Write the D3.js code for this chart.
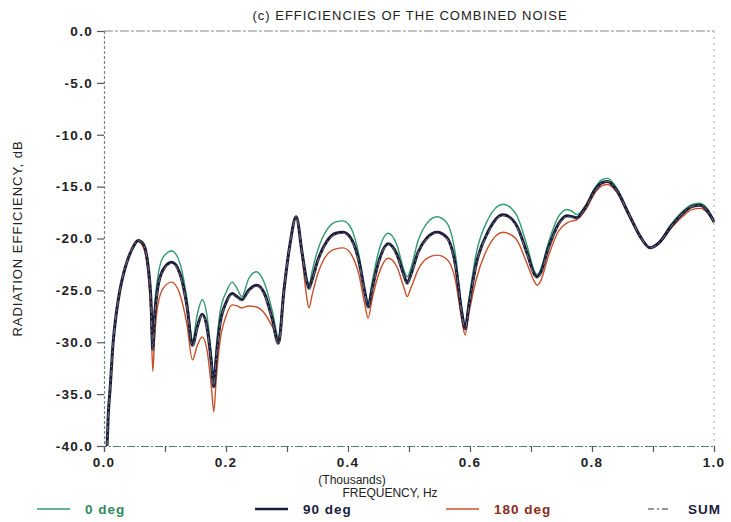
<!DOCTYPE html>
<html>
<head>
<meta charset="utf-8">
<script src="https://cdn.jsdelivr.net/npm/d3@7"></script>
<style>
  html, body { margin: 0; padding: 0; background: #ffffff; }
  svg { display: block; }
  text { font-family: "Liberation Sans", "DejaVu Sans", sans-serif; }
</style>
</head>
<body>
<svg id="chart" width="731" height="522"></svg>
<script>
// ---- data ----
const title = "(c) EFFICIENCIES OF THE COMBINED NOISE";
const yTitle = "RADIATION EFFICIENCY, dB";
const xTitle1 = "(Thousands)";
const xTitle2 = "FREQUENCY, Hz";
const xTickValues = [0.0, 0.2, 0.4, 0.6, 0.8, 1.0];
const xTickLabels = ["0.0", "0.2", "0.4", "0.6", "0.8", "1.0"];
const xMinorTicks = [0.0, 0.1, 0.2, 0.3, 0.4, 0.5, 0.6, 0.7, 0.8, 0.9, 1.0];
const yTickValues = [0, -5, -10, -15, -20, -25, -30, -35, -40];
const yTickLabels = ["0.0", "-5.0", "-10.0", "-15.0", "-20.0", "-25.0", "-30.0", "-35.0", "-40.0"];
const seriesNames = ["0 deg", "90 deg", "180 deg", "SUM"];

const freq = [0.005, 0.007, 0.01, 0.015, 0.02, 0.026, 0.032, 0.038, 0.047, 0.056,
  0.064, 0.072, 0.077, 0.080, 0.083, 0.088, 0.097, 0.111, 0.124, 0.136,
  0.145, 0.153, 0.161, 0.169, 0.176, 0.180, 0.184, 0.190, 0.200, 0.210,
  0.218, 0.226, 0.237, 0.250, 0.263, 0.276, 0.286, 0.295, 0.305, 0.315,
  0.325, 0.332, 0.336, 0.341, 0.350, 0.365, 0.380, 0.392, 0.405, 0.418,
  0.428, 0.433, 0.439, 0.450, 0.466, 0.480, 0.492, 0.497, 0.503, 0.515,
  0.530, 0.546, 0.562, 0.576, 0.587, 0.592, 0.598, 0.610, 0.630, 0.654,
  0.675, 0.694, 0.706, 0.710, 0.715, 0.728, 0.745, 0.759, 0.768, 0.775,
  0.790, 0.805, 0.817, 0.826, 0.840, 0.860, 0.880, 0.895, 0.910, 0.930,
  0.950, 0.965, 0.977, 0.990, 1.0];

const deg0 = [-40, -37, -34.5, -30, -27.3, -25, -23.4, -22.2, -20.9, -20.2,
  -20.5, -22.5, -25.5, -29.8, -26.5, -23.8, -21.8, -21.2, -22.3, -25.8,
  -29.8, -27.3, -25.9, -27.5, -31.2, -33.4, -30.5, -27.2, -25.2, -24.2,
  -24.8, -25.6, -23.9, -23.2, -24.3, -27.0, -29.5, -24.8, -20.5, -17.9,
  -21.3, -23.8, -24.5, -23.2, -21.2, -19.2, -18.4, -18.3, -19.0, -21.6,
  -25.0, -26.3, -24.4, -21.3, -19.5, -20.6, -23.1, -23.7, -22.9, -20.2,
  -18.5, -17.9, -18.5, -21.5, -27.0, -28.5, -26.0, -21.5, -18.1, -16.7,
  -17.6, -20.8, -23.2, -23.5, -23.1, -20.5, -17.9, -17.2, -17.4, -17.7,
  -16.8, -15.1, -14.3, -14.2, -15.1, -17.5, -19.9, -20.9, -20.3, -18.6,
  -17.3, -16.7, -16.6, -17.2, -18.3];

const deg90 = [-40, -37, -34.5, -30, -27.3, -25, -23.4, -22.2, -20.9, -20.2,
  -20.5, -22.5, -26, -30.7, -27.5, -24.8, -23, -22.3, -23.3, -26.5,
  -30.3, -28.5, -27.3, -28.6, -32, -34.3, -31.5, -28.3, -26.2, -25.3,
  -25.6, -25.9, -25.0, -24.5, -25.3, -27.8, -30.1, -25, -20.5, -17.9,
  -21.5, -24.0, -24.8, -24.0, -22.2, -20.3, -19.5, -19.4, -20.0, -22.2,
  -25.3, -26.6, -25.0, -22.3, -20.5, -21.5, -23.6, -24.3, -23.5, -21.3,
  -19.9, -19.4, -19.9, -22.5, -27.3, -28.7, -26.5, -22.5, -19.3, -17.7,
  -18.6, -21.5, -23.5, -23.7, -23.4, -21.0, -18.6, -17.8, -17.9, -18.0,
  -16.9, -15.3, -14.6, -14.5, -15.3, -17.6, -19.9, -20.9, -20.4, -18.8,
  -17.5, -16.9, -16.8, -17.4, -18.4];

const deg180 = [-40, -37, -34.5, -30, -27.3, -25, -23.4, -22.2, -20.9, -20.3,
  -20.8, -23.3, -27.5, -32.8, -29.5, -26.5, -24.8, -24.2, -25.3, -28.3,
  -31.7, -30.3, -29.5, -30.8, -34.3, -36.7, -33.5, -30, -27.5, -26.4,
  -26.5, -26.7, -26.5, -26.6, -27.2, -28.5, -29.6, -25.2, -20.7, -18.0,
  -22.0, -25.5, -26.7, -25.5, -23.5, -21.6, -21.0, -20.9, -21.5, -23.5,
  -26.5, -27.7, -26.0, -23.5, -21.9, -22.7, -24.8, -25.6, -24.8, -23.0,
  -21.9, -21.6, -22.0, -24.0, -28.0, -29.3, -27.3, -24.0, -20.8, -19.4,
  -20.0, -22.5, -24.2, -24.5, -24.2, -21.8, -19.3, -18.5, -18.3, -18.2,
  -17.2, -15.6, -14.9, -14.8, -15.5, -17.8, -20.0, -20.9, -20.5, -19.0,
  -17.8, -17.2, -17.1, -17.6, -18.5];

const sumSeries = [-40, -37, -34.5, -30, -27.3, -25, -23.4, -22.2, -20.9, -20.2,
  -20.5, -22.6, -26.1, -30.8, -27.6, -24.9, -23.1, -22.4, -23.4, -26.6,
  -30.4, -28.6, -27.4, -28.7, -32.1, -34.4, -31.6, -28.4, -26.3, -25.4,
  -25.7, -26.0, -25.1, -24.6, -25.4, -27.9, -30.2, -25, -20.5, -17.9,
  -21.5, -24.1, -24.9, -24.1, -22.3, -20.4, -19.6, -19.5, -20.1, -22.3,
  -25.4, -26.7, -25.1, -22.4, -20.6, -21.6, -23.7, -24.4, -23.6, -21.4,
  -20.0, -19.5, -20.0, -22.6, -27.4, -28.8, -26.6, -22.6, -19.4, -17.8,
  -18.7, -21.6, -23.6, -23.8, -23.5, -21.1, -18.7, -17.9, -18.0, -18.1,
  -17.0, -15.4, -14.6, -14.5, -15.3, -17.6, -19.9, -20.9, -20.4, -18.8,
  -17.5, -16.9, -16.8, -17.4, -18.4];

// ---- layout ----
const svg = d3.select("#chart");
const mLeft = 104, mRight = 714, mTop = 31, mBottom = 446;

const x = d3.scaleLinear().domain([0, 1]).range([mLeft, mRight]);
const y = d3.scaleLinear().domain([-40, 0]).range([mBottom, mTop]);

const axisColor = "#555";
const textColor = "#222";
const fontStack = "'Liberation Sans', 'DejaVu Sans', sans-serif";

// frame: top and right dashed
svg.append("line").attr("x1", mLeft).attr("x2", mRight).attr("y1", mTop).attr("y2", mTop)
  .attr("stroke", "#888").attr("stroke-width", 1).attr("stroke-dasharray", "9,2,3,2");
svg.append("line").attr("x1", mRight).attr("x2", mRight).attr("y1", mTop).attr("y2", mBottom)
  .attr("stroke", "#aaa").attr("stroke-width", 1).attr("stroke-dasharray", "2,4");

// y axis
const yAxis = d3.axisLeft(y).tickValues(yTickValues)
  .tickFormat((d, i) => yTickLabels[i]).tickSize(7).tickPadding(4);
const gy = svg.append("g").attr("transform", `translate(${mLeft},0)`).call(yAxis);
gy.select(".domain").attr("stroke", "#6a8a8a").attr("stroke-dasharray", "3,2").attr("stroke-width", 1.2);
gy.selectAll(".tick line").attr("stroke", axisColor).attr("stroke-width", 1.2);
gy.selectAll(".tick text").attr("fill", textColor).attr("font-size", 13.5)
  .attr("font-weight", "bold").attr("letter-spacing", "1.3px")
  .attr("font-family", fontStack);

// x axis
const xAxis = d3.axisBottom(x).tickValues(xMinorTicks).tickFormat("").tickSize(6);
const gx = svg.append("g").attr("transform", `translate(0,${mBottom})`).call(xAxis);
gx.select(".domain").attr("stroke", "#5a7a80").attr("stroke-dasharray", "8,2,2,2").attr("stroke-width", 1.2);
gx.selectAll(".tick line").attr("stroke", axisColor).attr("stroke-width", 1.2);

svg.append("g").selectAll("text").data(xTickValues).join("text")
  .attr("x", d => x(d)).attr("y", mBottom + 21)
  .attr("text-anchor", "middle").attr("fill", textColor)
  .attr("font-size", 13.5).attr("font-weight", "bold").attr("letter-spacing", "1.3px")
  .text((d, i) => xTickLabels[i]);

// titles
svg.append("text").attr("x", 410).attr("y", 20).attr("text-anchor", "middle")
  .attr("font-size", 13).attr("fill", textColor).attr("letter-spacing", "1px").text(title);
svg.append("text").attr("transform", `translate(22,${(mTop + mBottom) / 2}) rotate(-90)`)
  .attr("text-anchor", "middle").attr("font-size", 13).attr("letter-spacing", "1px")
  .attr("fill", textColor).text(yTitle);
svg.append("text").attr("x", 352).attr("y", 484).attr("text-anchor", "middle")
  .attr("font-size", 12).attr("fill", textColor).text(xTitle1);
svg.append("text").attr("x", 390).attr("y", 497).attr("text-anchor", "middle")
  .attr("font-size", 12).attr("fill", textColor).text(xTitle2);

// series (index: 0 = 0 deg, 1 = 90 deg, 2 = 180 deg, 3 = SUM)
const colors = ["#2e9a6e", "#1c1c3c", "#c8502a", "#777777"];
const widths = [1.4, 3.0, 1.4, 1.0];
const dashes = [null, null, null, "6,3,2,3"];
const seriesData = [deg0, deg90, deg180, sumSeries];
const drawOrder = [0, 2, 1, 3];

const line = d3.line().x((d, i) => x(freq[i])).y(d => y(d)).curve(d3.curveMonotoneX);
const plot = svg.append("g");
drawOrder.forEach(si => {
  plot.append("path").datum(seriesData[si])
    .attr("d", line)
    .attr("fill", "none")
    .attr("stroke", colors[si])
    .attr("stroke-width", widths[si])
    .attr("stroke-linejoin", "round")
    .attr("stroke-dasharray", dashes[si]);
});

// legend
const legendX = [37, 255, 446, 648];
const legendY = 514;
const lg = svg.append("g");
seriesNames.forEach((name, i) => {
  lg.append("line").attr("x1", legendX[i]).attr("x2", legendX[i] + (i === 3 ? 22 : 33))
    .attr("y1", legendY - 5).attr("y2", legendY - 5)
    .attr("stroke", colors[i]).attr("stroke-width", i === 1 ? 2.5 : 1.4)
    .attr("stroke-dasharray", dashes[i]);
  lg.append("text").attr("x", legendX[i] + (i === 3 ? 40 : 48)).attr("y", legendY)
    .attr("font-size", 13.5).attr("font-weight", "bold").attr("letter-spacing", "1px")
    .attr("fill", i === 0 ? "#2e8a5e" : (i === 2 ? "#8a2a1a" : "#1c1c3c"))
    .text(name);
});
</script>
</body>
</html>
